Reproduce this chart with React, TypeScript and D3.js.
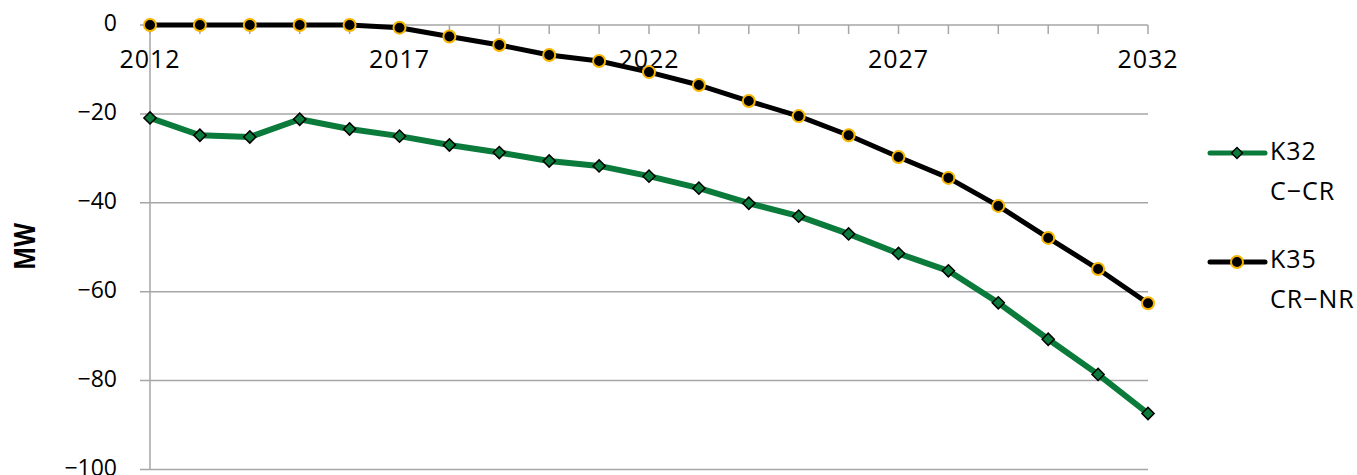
import React from "react";
import * as d3 from "d3";

const years = d3.range(2012, 2033);
const k32 = [-20.9, -24.8, -25.2, -21.2, -23.4, -25.0, -27.0, -28.7, -30.6, -31.7, -34.0, -36.7, -40.1, -43.0, -47.0, -51.4, -55.3, -62.5, -70.7, -78.6, -87.4];
const k35 = [0, 0, 0, 0, 0, -0.6, -2.6, -4.5, -6.75, -8.1, -10.6, -13.5, -17.1, -20.5, -24.8, -29.7, -34.4, -40.7, -47.9, -54.9, -62.6];
const xTickLabels = [2012, 2017, 2022, 2027, 2032];
const yTicks = [0, -20, -40, -60, -80, -100];
const seriesNames = [["K32", "C\u2212CR"], ["K35", "CR\u2212NR"]];

const W = 1357, H = 475;
const FONT = "'Open Sans', 'Noto Sans', sans-serif";
const GREEN = "#0B7B3B";
const ORANGE = "#F7B500";
const GRID = "#A6A6A6";

export default function App() {
  const x = d3.scaleLinear().domain([2012, 2032]).range([150, 1148]);
  const y = d3.scaleLinear().domain([-100, 0]).range([469.5, 25]);
  const line = d3.line<number>().x((_, i) => x(years[i])).y((d) => y(d));
  const diamond = d3.symbol().type(d3.symbolSquare).size(74)()!;
  const legDiamond = d3.symbol().type(d3.symbolSquare).size(60)()!;

  const fmt = (v: number) => (v < 0 ? "\u2212" + Math.abs(v) : String(v));

  return (
    <svg width={W} height={H} style={{ position: "absolute", left: 0, top: 0, background: "#fff" }}>
      {/* gridlines */}
      {yTicks.map((t) => (
        <line key={t} x1={140} x2={x(2032)} y1={y(t)} y2={y(t)} stroke={GRID} strokeWidth={1.5} />
      ))}
      {/* y axis */}
      <line x1={x(2012)} x2={x(2012)} y1={y(0)} y2={y(-100)} stroke={GRID} strokeWidth={1.5} />
      {/* x ticks */}
      {years.map((yr) => (
        <line key={yr} x1={x(yr)} x2={x(yr)} y1={y(0)} y2={y(0) + 9} stroke={GRID} strokeWidth={1.5} />
      ))}
      {/* y labels */}
      {yTicks.map((t) => (
        <text key={t} x={117} y={y(t) + 6} textAnchor="end" fontFamily={FONT} fontSize={23} fill="#000">
          {fmt(t)}
        </text>
      ))}
      {/* x labels */}
      {xTickLabels.map((t) => (
        <text key={t} x={x(t)} y={68} textAnchor="middle" fontFamily={FONT} fontSize={25} letterSpacing={1} fill="#000">
          {t}
        </text>
      ))}
      {/* axis title */}
      <text transform={`translate(35,246.5) rotate(-90)`} textAnchor="middle" fontFamily={FONT} fontSize={29} fontWeight="bold" textLength={47} lengthAdjust="spacingAndGlyphs" fill="#000">
        MW
      </text>
      {/* K32 */}
      <path d={line(k32)!} fill="none" stroke={GREEN} strokeWidth={6} strokeLinejoin="round" />
      {k32.map((v, i) => (
        <path key={i} d={diamond} transform={`translate(${x(years[i])},${y(v)}) rotate(45)`} fill={GREEN} stroke="#000" strokeWidth={1.5} />
      ))}
      {/* K35 */}
      <path d={line(k35)!} fill="none" stroke="#000" strokeWidth={5} strokeLinejoin="round" />
      {k35.map((v, i) => (
        <circle key={i} cx={x(years[i])} cy={y(v)} r={6} fill="#000" stroke={ORANGE} strokeWidth={2} />
      ))}
      {/* legend */}
      <g>
        <line x1={1210} x2={1265} y1={153} y2={153} stroke={GREEN} strokeWidth={5} strokeLinecap="round" />
        <path d={legDiamond} transform="translate(1237,153) rotate(45)" fill={GREEN} stroke="#000" strokeWidth={1.5} />
        <text x={1270} y={160} fontFamily={FONT} fontSize={25} letterSpacing={1} fill="#000">{seriesNames[0][0]}</text>
        <text x={1270} y={200} fontFamily={FONT} fontSize={25} letterSpacing={1} fill="#000">{seriesNames[0][1]}</text>
        <line x1={1210} x2={1265} y1={262} y2={262} stroke="#000" strokeWidth={5} strokeLinecap="round" />
        <circle cx={1237} cy={262} r={6} fill="#000" stroke={ORANGE} strokeWidth={2} />
        <text x={1270} y={268} fontFamily={FONT} fontSize={25} letterSpacing={1} fill="#000">{seriesNames[1][0]}</text>
        <text x={1270} y={308} fontFamily={FONT} fontSize={25} letterSpacing={1} fill="#000">{seriesNames[1][1]}</text>
      </g>
    </svg>
  );
}
